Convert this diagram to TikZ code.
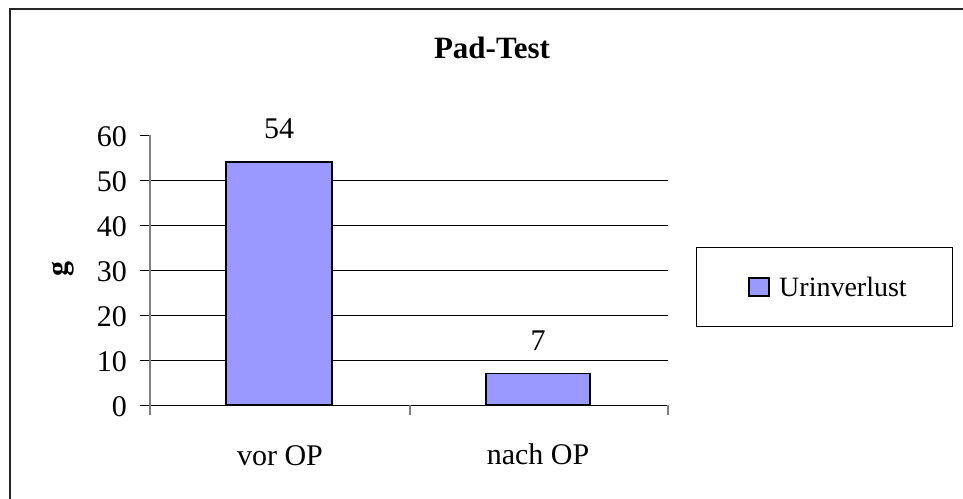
\documentclass[tikz,border=0pt]{standalone}
\usepackage{fontspec}
\setmainfont{Liberation Serif}
\definecolor{barblue}{HTML}{9999FF}
\begin{document}
\begin{tikzpicture}[x=1pt,y=-1pt,
  lbl/.style={font=\fontsize{30}{36}\selectfont, inner sep=0pt},
  bar/.style={draw=black, line width=1.6pt, fill=barblue},
  gridl/.style={line width=1pt, black},
  axisg/.style={line width=1.3pt, gray}]
\useasboundingbox (0,0) rectangle (963,498);
\clip (0,0) rectangle (963,498);
\fill[white] (0,0) rectangle (963,498);
% outer frame
\draw[line width=2pt, black!85] (10,9) rectangle (980,515);
% title
\node[lbl, font=\bfseries\fontsize{31}{37}\selectfont, anchor=base] (title) at (492,58) {Pad-Test};
% gridlines
\foreach \v in {10,20,30,40,50} {
  \draw[gridl] (150,{405-4.5*\v}) -- (668,{405-4.5*\v});
}
% y ticks and labels
\foreach \v in {0,10,20,30,40,50,60} {
  \draw[gridl] (140,{405-4.5*\v}) -- (150,{405-4.5*\v});
  \node[lbl, anchor=base east] (yt\v) at (127,{416-4.5*\v}) {\v};
}
% bars
\draw[bar] (226,405) rectangle (332,162);
\draw[bar] (486,405) rectangle (590,373.5);
% axes
\draw[gridl] (140,405) -- (668,405);
\draw[axisg] (150,135) -- (150,415);
\draw[axisg] (410,405) -- (410,415);
\draw[axisg] (668,405) -- (668,415);
% value labels
\node[lbl, anchor=base] (v1) at (279,138) {54};
\node[lbl, anchor=base] (v2) at (538,350) {7};
% category labels
\node[lbl, anchor=base] (c1) at (280,465) {vor OP};
\node[lbl, anchor=base] (c2) at (538,464) {nach OP};
% y axis title
\node[lbl, font=\bfseries\fontsize{30}{36}\selectfont, rotate=90] (ylab) at (63,269) {g};
% legend
\draw[line width=1pt] (696,247) rectangle (952,326);
\draw[bar, line width=1.3pt] (749,278) rectangle (769,296);
\node[lbl, font=\fontsize{28}{34}\selectfont, anchor=base west] (leg) at (779,296) {Urinverlust};
\end{tikzpicture}
\end{document}
